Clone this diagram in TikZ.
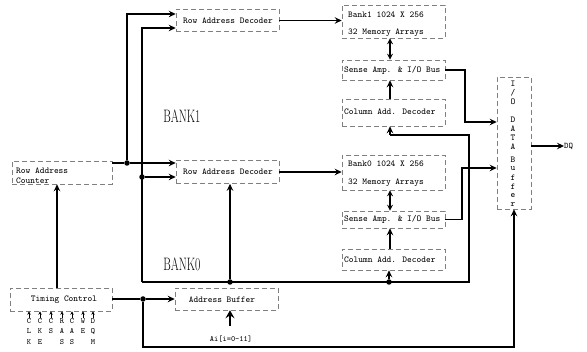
\documentclass[tikz,border=0pt]{standalone}
\usetikzlibrary{arrows.meta}
\begin{document}
\begin{tikzpicture}[x=1pt,y=-1pt,
  box/.style={draw=black!50,dash pattern=on 5pt off 3pt,line width=0.6pt,inner sep=0pt,minimum width=103pt},
  lbl/.style={font=\ttfamily\fontsize{9}{10}\selectfont,inner sep=0pt},
  ln/.style={line width=1.1pt},
  arr/.style={line width=1.1pt,-{Stealth[length=7pt,width=6.5pt,inset=2.5pt]}},
  darr/.style={line width=1.1pt,{Stealth[length=6pt,width=6pt,inset=2pt]}-{Stealth[length=6pt,width=6pt,inset=2pt]}},
  sarr/.style={line width=0.5pt,-{Stealth[length=3.5pt,width=3.5pt]}},
  dot/.style={circle,fill=black,inner sep=0pt,minimum size=5.5pt},
  bank/.style={font=\fontsize{18}{18}\selectfont,inner sep=0pt,xscale=0.64}]
\useasboundingbox (0,0) rectangle (587,352);

% boxes
\node[box,minimum height=22pt] (rad1) at (227.5,20.5) {};
\node[lbl] (rad1t) at (228,20.5) {Row Address Decoder};
\node[box,minimum height=33pt] (bank1) at (393.5,21.5) {};
\node[lbl,anchor=west] (bank1a) at (348,15) {Bank1 1024 X 256};
\node[lbl,anchor=west] (bank1b) at (348,32.5) {32 Memory Arrays};
\node[box,minimum height=20pt] (sa1) at (393.5,70) {};
\node[lbl,anchor=west] (sa1t) at (344,70) {Sense Amp. \& I/O Bus};
\node[box,minimum height=27pt] (cad1) at (393.5,112.5) {};
\node[lbl,anchor=west] (cad1t) at (344,112) {Column Add. Decoder};
\node[bank] (b1) at (182,116) {BANK1};

\node[box,minimum width=100pt,minimum height=23pt] (rac) at (62,172.5) {};
\node[lbl,anchor=west] (rac1) at (16,171) {Row Address};
\node[lbl,anchor=west] (rac2) at (16,181) {Counter};
\node[box,minimum height=23pt] (rad0) at (227.5,172) {};
\node[lbl] (rad0t) at (228,171.5) {Row Address Decoder};
\node[box,minimum height=35pt] (bank0) at (393.5,172.5) {};
\node[lbl,anchor=west] (bank0a) at (348,164) {Bank0 1024 X 256};
\node[lbl,anchor=west] (bank0b) at (348,183) {32 Memory Arrays};
\node[box,minimum height=17pt] (sa0) at (393.5,219.5) {};
\node[lbl,anchor=west] (sa0t) at (344,219) {Sense Amp. \& I/O Bus};
\node[box,minimum height=21pt] (cad0) at (393.5,259.5) {};
\node[lbl,anchor=west] (cad0t) at (344,259.5) {Column Add. Decoder};
\node[bank] (b0) at (182,264) {BANK0};

\node[box,minimum width=34pt,minimum height=132pt] (io) at (514,143) {};
\foreach \c/\y [count=\i] in {I/84,{/}/93,O/102,D/120,A/129,T/138,A/147,B/160,u/169,f/178,f/187,e/196,r/205}
  \node[lbl] (io\i) at (513,\y) {\c};
\node[lbl,anchor=west,font=\ttfamily\fontsize{8.5}{9}\selectfont] (dq) at (564,146) {DQ};

\node[box,minimum width=102pt,minimum height=23pt] (tc) at (61,299.5) {};
\node[lbl] (tct) at (64,299.5) {Timing Control};
\node[box,minimum height=22pt] (ab) at (226.5,299) {};
\node[lbl] (abt) at (222,300) {Address Buffer};
\node[lbl,font=\ttfamily\fontsize{8}{9}\selectfont] (ain) at (231,339) {Ai[i=0-11]};

% signal pins
\foreach \x/\s [count=\i] in {29/C\\L\\K,40/C\\K\\E,51/C\\S,62/R\\A\\S,72/C\\A\\S,83/W\\E,93/D\\Q\\M}{
  \node[font=\ttfamily\fontsize{8}{10.5}\selectfont,align=center,anchor=north,inner sep=0pt] (sig\i) at (\x,318) {\s};
  \draw[sarr] (sig\i.north) -- (sig\i.north |- tc.south);
}

% junctions
\node[dot] (j1) at (127,163) {};
\node[dot] (j2) at (142,177) {};
\coordinate (j3) at (142,282);
\node[dot] (j4) at (230,282) {};
\node[dot] (j5) at (389,282) {};
\coordinate (j6) at (469,282);
\coordinate (j7) at (469,135);
\coordinate (cx) at (390,0);
\node[dot] (t1) at (143,299) {};
\coordinate (t3) at (514,347);
\coordinate (k1) at (465,122);
\coordinate (k2) at (462,168);
\coordinate (vx) at (57,0);
\coordinate (a0) at (230,326);

% connectors
\draw[ln] (rac.east |- j1) -- (j1);
\draw[arr] (j1) -- (rad0.west |- j1);
\draw[arr] (j1) |- ([yshift=6.5pt]rad1.west);
\draw[arr] (j2) -- (rad0.west |- j2);
\draw[arr] (j3) |- ([yshift=-7.5pt]rad1.west);
\draw[ln] (j3) -- (j6) -- (j7) -- (cx |- j7);
\draw[arr] (cx |- j7) -- (cx |- cad1.south);
\draw[arr] (j4) -- (j4 |- rad0.south);
\draw[arr] (j5) -- (j5 |- cad0.south);
\draw[arr] (rad1.east) -- (bank1.west |- rad1.east);
\draw[arr] (rad0.east) -- (bank0.west |- rad0.east);
\draw[darr] (cx |- bank1.south) -- (cx |- sa1.north);
\draw[arr] (cx |- cad1.north) -- (cx |- sa1.south);
\draw[darr] (cx |- bank0.south) -- (cx |- sa0.north);
\draw[arr] (cx |- cad0.north) -- (cx |- sa0.south);
\draw[arr] (sa1.east) -| (k1) -- (io.west |- k1);
\draw[arr] (sa0.east) -| (k2) -- (io.west |- k2);
\draw[arr] (io.east |- dq.west) -- (dq.west);
\draw[ln] (tc.east |- t1) -- (t1);
\draw[arr] (t1) -- (ab.west |- t1);
\draw[arr] (t1) |- (t3) -- (io.south);
\draw[arr] (vx |- tc.north) -- (vx |- rac.south);
\draw[line width=1.6pt,-{Stealth[length=8pt,width=9pt,inset=3pt]}] (a0) -- (a0 |- ab.south);
\end{tikzpicture}
\end{document}
